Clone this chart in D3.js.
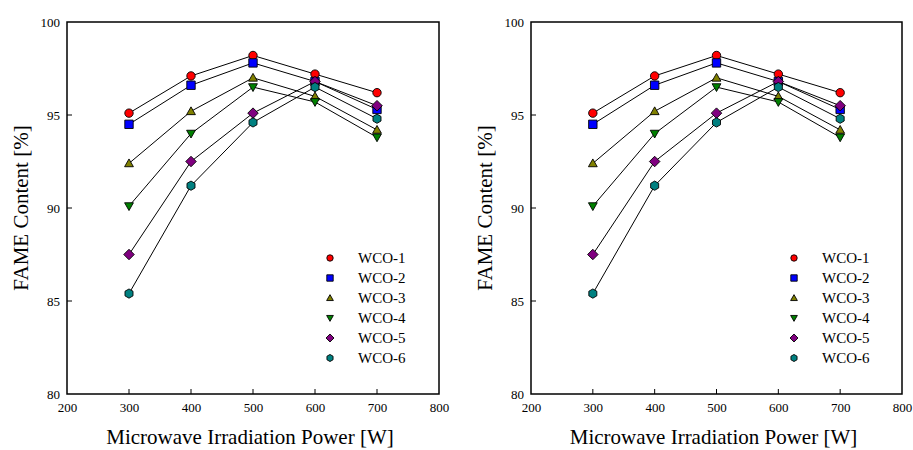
<!DOCTYPE html>
<html lang="en">
<head>
  <meta charset="utf-8">
  <title>FAME Content vs Microwave Power</title>
  <script src="https://d3js.org/d3.v7.min.js"></script>
  <style>
    body { margin: 0; background: #fff; }
  </style>
</head>
<body>
<script>
  // data
  var power = [300, 400, 500, 600, 700];
  var seriesNames = ["WCO-1", "WCO-2", "WCO-3", "WCO-4", "WCO-5", "WCO-6"];
  var wco1 = [95.1, 97.1, 98.2, 97.2, 96.2];
  var wco2 = [94.5, 96.6, 97.8, 96.8, 95.3];
  var wco3 = [92.4, 95.2, 97.0, 96.0, 94.2];
  var wco4 = [90.1, 94.0, 96.5, 95.7, 93.8];
  var wco5 = [87.5, 92.5, 95.1, 96.8, 95.5];
  var wco6 = [85.4, 91.2, 94.6, 96.5, 94.8];
  var xTicks = [200, 300, 400, 500, 600, 700, 800];
  var yTicks = [80, 85, 90, 95, 100];

  var allSeries = [wco1, wco2, wco3, wco4, wco5, wco6];
  var colours = ["#ff0000", "#0000ff", "#808000", "#008000", "#800080", "#008080"];
  var shapes = ["circle", "square", "up", "down", "diamond", "hexagon"];
  var serif = "'Liberation Serif', 'Times New Roman', Times, 'DejaVu Serif', serif";

  var w = 913, h = 450;
  var svg = d3.select("body").append("svg")
    .attr("width", w)
    .attr("height", h)
    .style("font-family", serif);

  // marker path centred on 0,0
  function markerPath(shape, r) {
    if (shape == "circle") {
      return d3.symbol().type(d3.symbolCircle).size(Math.PI * r * r)();
    }
    if (shape == "square") {
      return "M" + (-r) + "," + (-r) + "H" + r + "V" + r + "H" + (-r) + "Z";
    }
    if (shape == "up") {
      return "M0," + (-r * 1.05) + "L" + (r * 1.05) + "," + (r * 0.8) + "L" + (-r * 1.05) + "," + (r * 0.8) + "Z";
    }
    if (shape == "down") {
      return "M0," + (r * 1.05) + "L" + (r * 1.05) + "," + (-r * 0.8) + "L" + (-r * 1.05) + "," + (-r * 0.8) + "Z";
    }
    if (shape == "diamond") {
      var d = r * 1.25;
      return "M0," + (-d) + "L" + d + ",0L0," + d + "L" + (-d) + ",0Z";
    }
    // hexagon
    var pts = [];
    for (var k = 0; k < 6; k++) {
      var a = Math.PI / 6 + k * Math.PI / 3;
      pts.push([Math.cos(a) * r * 1.1, Math.sin(a) * r * 1.1]);
    }
    return "M" + pts.join("L") + "Z";
  }

  function drawPanel(left, width) {
    var x0 = left, x1 = left + width, yTop = 22, yBot = 394;

    var x = d3.scaleLinear().domain([200, 800]).range([x0, x1]);
    var y = d3.scaleLinear().domain([80, 100]).range([yBot, yTop]);

    var g = svg.append("g");

    // axes, tick labels only (ticks drawn inward below)
    var xAxis = d3.axisBottom(x).tickValues(xTicks).tickSize(0).tickPadding(9).tickFormat(d3.format("d"));
    var gx = g.append("g").attr("transform", "translate(0," + yBot + ")").call(xAxis);
    gx.attr("font-family", null);
    gx.select(".domain").remove();
    gx.selectAll("text").attr("font-family", serif).style("font-size", "13px");

    var yAxis = d3.axisLeft(y).tickValues(yTicks).tickSize(0).tickPadding(7).tickFormat(d3.format("d"));
    var gy = g.append("g").attr("transform", "translate(" + x0 + ",0)").call(yAxis);
    gy.attr("font-family", null);
    gy.select(".domain").remove();
    gy.selectAll("text").attr("font-family", serif).style("font-size", "13px");

    // inner tick marks
    g.selectAll(".xt").data(xTicks.slice(1, -1)).enter().append("line")
      .attr("x1", function(d) { return x(d); })
      .attr("x2", function(d) { return x(d); })
      .attr("y1", yBot).attr("y2", yBot - 5)
      .attr("stroke", "#000").attr("stroke-width", 1);
    g.selectAll(".yt").data(yTicks.slice(1, -1)).enter().append("line")
      .attr("y1", function(d) { return y(d); })
      .attr("y2", function(d) { return y(d); })
      .attr("x1", x0).attr("x2", x0 + 5)
      .attr("stroke", "#000").attr("stroke-width", 1);

    // frame
    g.append("rect")
      .attr("x", x0).attr("y", yTop)
      .attr("width", x1 - x0).attr("height", yBot - yTop)
      .attr("fill", "none").attr("stroke", "#000").attr("stroke-width", 1.5);

    // lines
    var line = d3.line()
      .x(function(d, i) { return x(power[i]); })
      .y(function(d) { return y(d); });

    allSeries.forEach(function(s) {
      g.append("path").attr("d", line(s))
        .attr("fill", "none").attr("stroke", "#000").attr("stroke-width", 1);
    });

    // markers
    allSeries.forEach(function(s, si) {
      g.selectAll(".m" + si).data(s).enter().append("path")
        .attr("d", markerPath(shapes[si], 4.2))
        .attr("transform", function(d, i) { return "translate(" + x(power[i]) + "," + y(d) + ")"; })
        .attr("fill", colours[si])
        .attr("stroke", "#000").attr("stroke-width", 0.9);
    });

    // legend
    var lg = g.append("g").attr("transform", "translate(" + (x0 + 263) + ",258)");
    seriesNames.forEach(function(name, si) {
      lg.append("path")
        .attr("d", markerPath(shapes[si], 3.2))
        .attr("transform", "translate(0," + (si * 20) + ")")
        .attr("fill", colours[si])
        .attr("stroke", "#000").attr("stroke-width", 0.9);
      lg.append("text")
        .attr("x", 28).attr("y", si * 20 + 5)
        .attr("font-family", serif)
        .style("font-size", "15px")
        .text(name);
    });

    // axis titles
    g.append("text")
      .attr("x", (x0 + x1) / 2 - 3).attr("y", 444)
      .attr("text-anchor", "middle")
      .attr("font-family", serif)
      .style("font-size", "21px")
      .text("Microwave Irradiation Power [W]");
    g.append("text")
      .attr("transform", "translate(" + (x0 - 39) + "," + ((yTop + yBot) / 2) + ") rotate(-90)")
      .attr("text-anchor", "middle")
      .attr("font-family", serif)
      .style("font-size", "21px")
      .text("FAME Content [%]");
  }

  drawPanel(67, 372);
  drawPanel(531, 371);
</script>
</body>
</html>
